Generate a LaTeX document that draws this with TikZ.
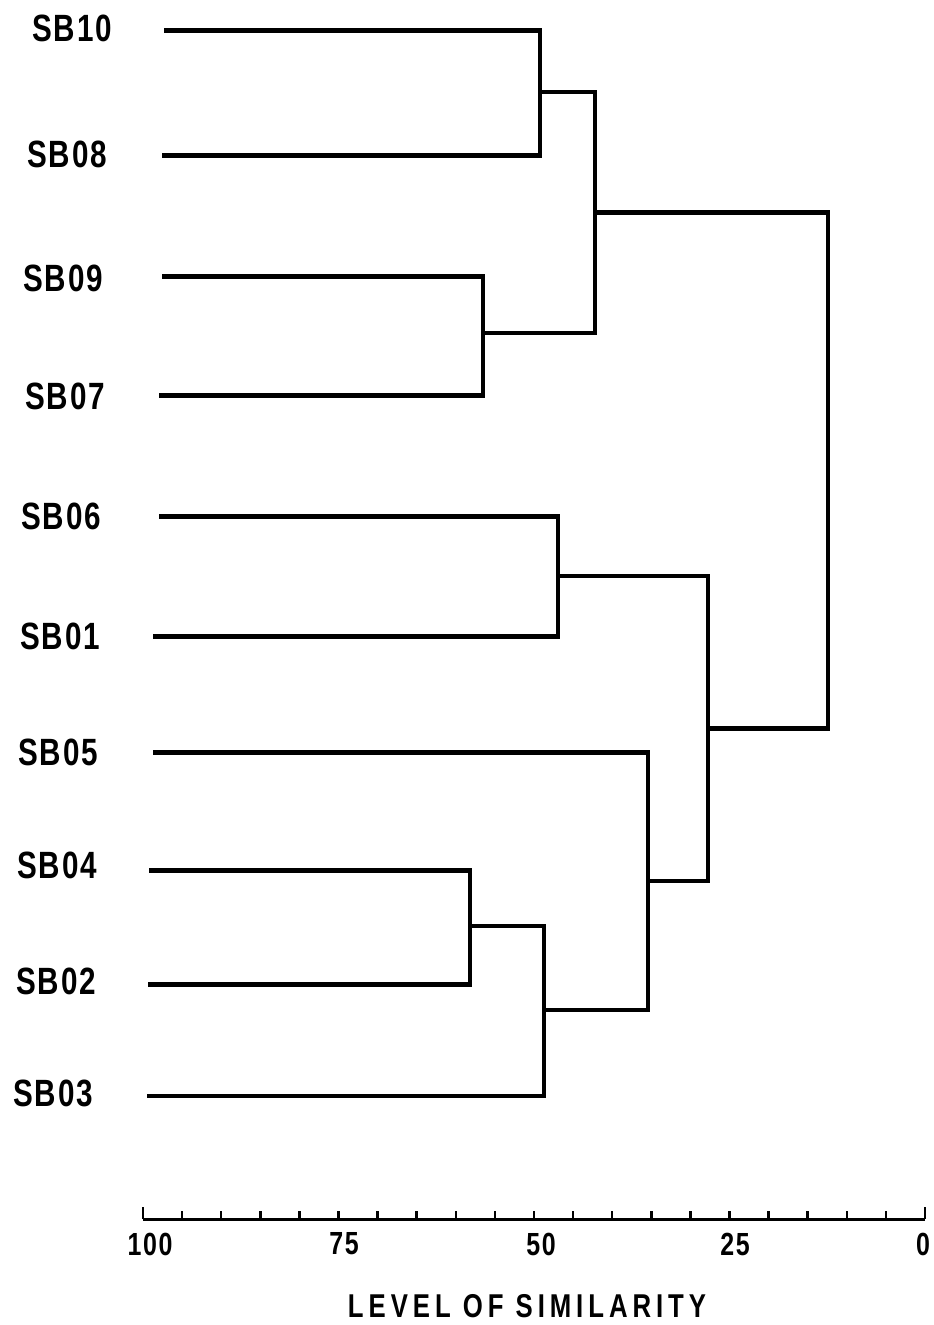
\documentclass[tikz,border=0pt]{standalone}
\usepackage{fontspec}
\usetikzlibrary{calc}
\newfontfamily\labfont[FakeStretch=0.78,LetterSpace=5]{Liberation Sans Bold}
\newfontfamily\titfont[FakeStretch=0.78,LetterSpace=15]{Liberation Sans Bold}
\begin{document}
\begin{tikzpicture}[x=1pt,y=-1pt,
  leaflab/.style={anchor=west,inner sep=0pt,font=\labfont\fontsize{38}{38}\selectfont},
  axlab/.style={inner sep=0pt,font=\labfont\fontsize{32}{32}\selectfont},
  titlab/.style={inner sep=0pt,font=\titfont\fontsize{33}{33}\selectfont},
  tree/.style={line width=4.5pt,line join=miter},
  axisline/.style={line width=3pt},
  tick/.style={line width=2.5pt}]
\useasboundingbox (0,0) rectangle (934,1325);
\fill[white] (0,0) rectangle (934,1325);
% labels
\node[leaflab] (L10) at (32,28.5) {SB10};
\node[leaflab] (L08) at (27,154.5) {SB08};
\node[leaflab] (L09) at (23,278.5) {SB09};
\node[leaflab] (L07) at (25,396.5) {SB07};
\node[leaflab] (L06) at (21,516.5) {SB06};
\node[leaflab] (L01) at (20,636.5) {SB01};
\node[leaflab] (L05) at (18,752) {SB05};
\node[leaflab] (L04) at (17,865) {SB04};
\node[leaflab] (L02) at (16,981.5) {SB02};
\node[leaflab] (L03) at (13,1093.5) {SB03};
% leaf starts
\coordinate (s10) at (164,30.5);
\coordinate (s08) at (162,155.5);
\coordinate (s09) at (162,276.5);
\coordinate (s07) at (159,395.5);
\coordinate (s06) at (159,516.5);
\coordinate (s01) at (153,636.5);
\coordinate (s05) at (153,752.5);
\coordinate (s04) at (149,870.5);
\coordinate (s02) at (148,984.5);
\coordinate (s03) at (147,1096);
% merge points
\coordinate (k1) at (540,92);
\coordinate (k2) at (483,333);
\coordinate (k3) at (595,212.5);
\coordinate (k4) at (558,576);
\coordinate (k5) at (470,926);
\coordinate (k6) at (544,1010);
\coordinate (k7) at (648,881);
\coordinate (k8) at (708,728.5);
\coordinate (k9) at (828,470);
% dendrogram
\draw[tree] (s10) -| (k1) |- (s08);
\draw[tree] (s09) -| (k2) |- (s07);
\draw[tree] (k1) -| (k3) |- (k2);
\draw[tree] (s06) -| (k4) |- (s01);
\draw[tree] (s04) -| (k5) |- (s02);
\draw[tree] (k5) -| (k6) |- (s03);
\draw[tree] (s05) -| (k7) |- (k6);
\draw[tree] (k4) -| (k8) |- (k7);
\draw[tree] (k3) -| (k9) |- (k8);
% axis
\coordinate (a100) at (143,1219);
\coordinate (a0) at (925,1219);
\draw[axisline] (a100) -- (a0);
\draw[tick] (a100) -- ++(0,-12);
\draw[tick] (a0) -- ++(0,-12);
\foreach \i in {1,...,19}{
  \draw[tick] ($(a100)+(39.1*\i,0)$) -- ++(0,-8);
}
\node[axlab] (n100) at (150,1244) {100};
\node[axlab] (n75) at (344,1244) {75};
\node[axlab] (n50) at (541,1244) {50};
\node[axlab] (n25) at (735,1244) {25};
\node[axlab] (n0) at (923,1244) {0};
\node[titlab] (title) at (527,1306) {LEVEL OF SIMILARITY};
\end{tikzpicture}
\end{document}
